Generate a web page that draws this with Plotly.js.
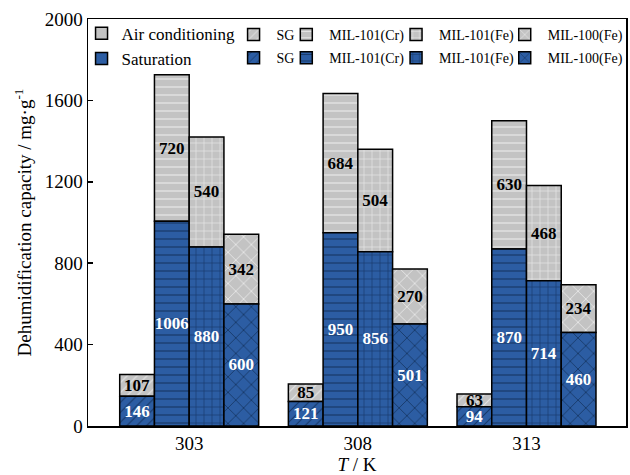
<!DOCTYPE html>
<html>
<head>
<meta charset="utf-8">
<script src="https://cdn.plot.ly/plotly-3.0.1.min.js"></script>
<style>html,body{margin:0;padding:0;background:#fff;}#chart{width:630px;height:475px;}</style>
</head>
<body>
<div id="chart"></div>
<script>
const temps = ['303', '308', '313'];
const materials = ['SG', 'MIL-101(Cr)', 'MIL-101(Fe)', 'MIL-100(Fe)'];
const satSG = [146, 121, 94];
const satCr = [1006, 950, 870];
const satFe101 = [880, 856, 714];
const satFe100 = [600, 501, 460];
const airSG = [107, 85, 63];
const airCr = [720, 684, 630];
const airFe101 = [540, 504, 468];
const airFe100 = [342, 270, 234];
const yTicks = [0, 400, 800, 1200, 1600, 2000];

const satSeries = [satSG, satCr, satFe101, satFe100];
const airSeries = [airSG, airCr, airFe101, airFe100];
const shapes = ['/', '-', '+', 'x'];
const sizes = [7, 8, 8, 11];

const GREY = '#c3c3c3';
const BLUE = '#2c5da3';
const FONT = 'Liberation Serif';
const W = 0.206;

const traces = [];
traces.push({type: 'bar', x: [temps[0]], y: [null], name: 'Air conditioning', legend: 'legend', legendgroup: 'a',
  marker: {color: GREY, line: {color: '#000', width: 1.5}}, hoverinfo: 'skip'});
traces.push({type: 'bar', x: [temps[0]], y: [null], name: 'Saturation', legend: 'legend', legendgroup: 'b',
  marker: {color: BLUE, line: {color: '#000', width: 1.5}}, hoverinfo: 'skip'});

materials.forEach((m, i) => {
  const off = (i - 2) * W;
  const lg = 'legend' + (i + 2);
  traces.push({
    type: 'bar', x: temps, y: airSeries[i], base: satSeries[i], name: m,
    legend: lg, legendgroup: 'a', offset: off, width: W,
    marker: {color: GREY, line: {color: '#000', width: 1.5},
      pattern: {shape: shapes[i], bgcolor: GREY, fgcolor: '#e8e8e8', size: sizes[i], solidity: 0.15, fillmode: 'replace'}},
    text: airSeries[i].map(v => '<b>' + v + '</b>'), textposition: 'inside', insidetextanchor: 'middle',
    textangle: 0, constraintext: 'none',
    textfont: {family: FONT, size: 17, color: '#000'},
    hoverinfo: 'skip'
  });
  traces.push({
    type: 'bar', x: temps, y: satSeries[i], name: m,
    legend: lg, legendgroup: 'b', offset: off, width: W,
    marker: {color: BLUE, line: {color: '#000', width: 1.5},
      pattern: {shape: shapes[i], bgcolor: BLUE, fgcolor: '#173766', size: sizes[i], solidity: 0.15, fillmode: 'replace'}},
    text: satSeries[i].map(v => '<b>' + v + '</b>'), textposition: 'inside', insidetextanchor: 'middle',
    textangle: 0, constraintext: 'none',
    textfont: {family: FONT, size: 17, color: '#fff'},
    hoverinfo: 'skip'
  });
});

function leg(x, y, size, iw, gap) {
  return {x: x, y: y, xanchor: 'left', yanchor: 'top', orientation: 'v',
    bgcolor: 'rgba(0,0,0,0)', borderwidth: 0, traceorder: 'grouped', tracegroupgap: gap,
    font: {family: FONT, size: size, color: '#000'}, itemwidth: iw};
}

const layout = {
  width: 630, height: 475,
  margin: {l: 88, r: 2, t: 19, b: 49},
  paper_bgcolor: '#fff', plot_bgcolor: '#fff',
  barmode: 'overlay',
  font: {family: FONT, color: '#000'},
  xaxis: {
    type: 'category', range: [-0.6, 2.59],
    showline: true, mirror: true, linecolor: '#000', linewidth: 1.5,
    ticks: '', showgrid: false, zeroline: false,
    tickfont: {family: FONT, size: 19, color: '#000'},
    title: {text: '<i>T</i> / K', font: {family: FONT, size: 19, color: '#000'}, standoff: 4}
  },
  yaxis: {
    range: [0, 2000], tickvals: yTicks, ticktext: yTicks.map(String),
    showline: true, mirror: true, linecolor: '#000', linewidth: 1.5,
    ticks: 'inside', ticklen: 5, tickwidth: 1.5, tickcolor: '#000',
    showgrid: false, zeroline: false,
    tickfont: {family: FONT, size: 19, color: '#000'},
    title: {text: 'Dehumidification capacity / mg·g<sup>-1</sup>', font: {family: FONT, size: 19, color: '#000'}, standoff: 8}
  },
  legend: leg(-0.012, 1.008, 17, 30, 0),
  legend2: leg(0.265, 1.0, 14, 36, 2),
  legend3: leg(0.363, 1.0, 14, 36, 2),
  legend4: leg(0.567, 1.0, 14, 36, 2),
  legend5: leg(0.769, 1.0, 14, 36, 2)
};

Plotly.newPlot('chart', traces, layout, {staticPlot: true, displayModeBar: false});
</script>
</body>
</html>
